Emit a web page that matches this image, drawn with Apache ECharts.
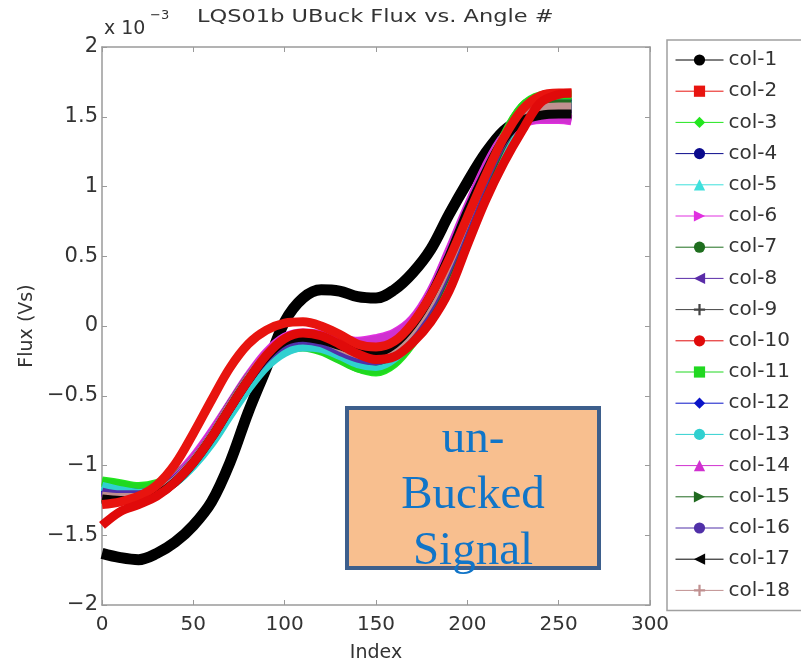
<!DOCTYPE html>
<html>
<head>
<meta charset="utf-8">
<script src="https://cdn.jsdelivr.net/npm/echarts@6/dist/echarts.min.js"></script>
<style>
html,body{margin:0;padding:0;background:#fff;}
#chart{width:801px;height:668px;}
</style>
</head>
<body>
<div id="chart"></div>
<script>
// ---- data (values in units of 1e-3 Vs) ----
const index = [0,10,20,30,40,50,60,70,80,90,100,110,120,130,140,150,160,170,180,190,200,210,220,230,240,250,257];
const names = ['col-1','col-2','col-3','col-4','col-5','col-6','col-7','col-8','col-9','col-10','col-11','col-12','col-13','col-14','col-15','col-16','col-17','col-18'];
const col1  = [-1.63,-1.66,-1.675,-1.63,-1.55,-1.43,-1.26,-0.98,-0.62,-0.3,0.03,0.2,0.26,0.25,0.21,0.2,0.26,0.38,0.55,0.8,1.03,1.24,1.4,1.48,1.51,1.52,1.52];
const col2  = [-1.28,-1.26,-1.22,-1.14,-0.99,-0.77,-0.53,-0.3,-0.13,-0.03,0.02,0.03,0.0,-0.06,-0.13,-0.15,-0.11,0.02,0.22,0.48,0.78,1.08,1.35,1.55,1.65,1.67,1.67];
const col3  = [-1.11,-1.13,-1.15,-1.13,-1.07,-0.95,-0.79,-0.6,-0.42,-0.27,-0.17,-0.14,-0.17,-0.23,-0.3,-0.33,-0.27,-0.12,0.09,0.37,0.7,1.03,1.35,1.57,1.65,1.66,1.66];
const col4  = [-1.16,-1.18,-1.19,-1.16,-1.09,-0.96,-0.79,-0.59,-0.4,-0.24,-0.14,-0.11,-0.13,-0.19,-0.25,-0.28,-0.23,-0.1,0.1,0.37,0.68,1.0,1.3,1.5,1.58,1.6,1.6];
const col5  = [-1.14,-1.17,-1.19,-1.17,-1.11,-0.99,-0.83,-0.63,-0.44,-0.28,-0.18,-0.14,-0.15,-0.2,-0.26,-0.29,-0.24,-0.11,0.09,0.36,0.67,0.99,1.29,1.49,1.57,1.58,1.58];
const col6  = [-1.2,-1.21,-1.21,-1.17,-1.08,-0.94,-0.76,-0.56,-0.36,-0.19,-0.08,-0.05,-0.06,-0.09,-0.11,-0.09,-0.05,0.05,0.25,0.54,0.85,1.14,1.36,1.45,1.48,1.48,1.47];
const col7  = [-1.22,-1.23,-1.23,-1.19,-1.1,-0.96,-0.78,-0.57,-0.37,-0.21,-0.1,-0.07,-0.09,-0.15,-0.21,-0.24,-0.19,-0.06,0.14,0.42,0.73,1.04,1.33,1.52,1.59,1.6,1.6];
const col8  = [-1.18,-1.2,-1.2,-1.17,-1.09,-0.96,-0.78,-0.58,-0.38,-0.22,-0.12,-0.09,-0.11,-0.17,-0.22,-0.24,-0.18,-0.04,0.16,0.44,0.76,1.07,1.34,1.5,1.55,1.56,1.56];
const col9  = [-1.21,-1.22,-1.22,-1.18,-1.1,-0.96,-0.78,-0.57,-0.38,-0.21,-0.11,-0.08,-0.1,-0.16,-0.21,-0.23,-0.17,-0.03,0.17,0.45,0.77,1.08,1.35,1.51,1.56,1.57,1.57];
const col10 = [-1.43,-1.33,-1.28,-1.22,-1.12,-0.98,-0.8,-0.59,-0.39,-0.21,-0.09,-0.05,-0.07,-0.13,-0.2,-0.24,-0.22,-0.12,0.03,0.25,0.58,0.9,1.17,1.4,1.6,1.66,1.67];
const col11 = [-1.12,-1.14,-1.16,-1.14,-1.08,-0.96,-0.8,-0.61,-0.43,-0.28,-0.18,-0.15,-0.18,-0.24,-0.3,-0.32,-0.26,-0.11,0.1,0.38,0.71,1.04,1.36,1.57,1.64,1.65,1.65];
const col12 = [-1.17,-1.19,-1.2,-1.17,-1.1,-0.97,-0.8,-0.6,-0.41,-0.25,-0.15,-0.12,-0.14,-0.2,-0.26,-0.28,-0.22,-0.09,0.11,0.38,0.69,1.01,1.31,1.51,1.58,1.59,1.59];
const col13 = [-1.15,-1.18,-1.2,-1.18,-1.12,-1.0,-0.84,-0.64,-0.45,-0.29,-0.19,-0.15,-0.16,-0.21,-0.27,-0.29,-0.23,-0.1,0.1,0.37,0.68,1.0,1.3,1.5,1.57,1.58,1.58];
const col14 = [-1.21,-1.22,-1.22,-1.18,-1.09,-0.95,-0.77,-0.57,-0.37,-0.2,-0.09,-0.06,-0.07,-0.1,-0.12,-0.1,-0.06,0.04,0.24,0.53,0.84,1.13,1.35,1.45,1.49,1.49,1.48];
const col15 = [-1.23,-1.24,-1.24,-1.2,-1.11,-0.97,-0.79,-0.58,-0.38,-0.22,-0.11,-0.08,-0.1,-0.16,-0.22,-0.25,-0.2,-0.07,0.13,0.41,0.72,1.03,1.32,1.51,1.58,1.59,1.59];
const col16 = [-1.19,-1.21,-1.21,-1.18,-1.1,-0.97,-0.79,-0.59,-0.39,-0.23,-0.13,-0.1,-0.12,-0.18,-0.23,-0.25,-0.19,-0.05,0.15,0.43,0.75,1.06,1.33,1.5,1.55,1.56,1.56];
const col17 = [-1.24,-1.25,-1.25,-1.21,-1.12,-0.98,-0.8,-0.59,-0.39,-0.22,-0.11,-0.08,-0.1,-0.14,-0.18,-0.19,-0.13,0.01,0.22,0.5,0.82,1.1,1.34,1.47,1.51,1.52,1.52];
const col18 = [-1.22,-1.23,-1.23,-1.19,-1.11,-0.97,-0.79,-0.58,-0.38,-0.21,-0.1,-0.07,-0.09,-0.15,-0.2,-0.22,-0.16,-0.02,0.18,0.46,0.78,1.09,1.35,1.51,1.56,1.57,1.57];
const values = [col1,col2,col3,col4,col5,col6,col7,col8,col9,col10,col11,col12,col13,col14,col15,col16,col17,col18];
const xTicks = [0,50,100,150,200,250,300];
const yTicks = [-2,-1.5,-1,-0.5,0,0.5,1,1.5,2];

// ---- styles ----
const colors = ['#000000','#e8140f','#22e61e','#0a0a8c','#3ee0dc','#e030e0','#1e6e1e','#5a2ca8','#444444',
                '#e00a0a','#20d820','#0a14c8','#30d0d0','#d030d0','#206a20','#5030a8','#050505','#c09090'];
const plus = 'path://M4,0h2v4h4v2h-4v4h-2v-4h-4v-2h4z';
const symbols = ['circle','rect','diamond','circle','triangle','triangle','circle','triangle',plus,
                 'circle','rect','diamond','circle','triangle','triangle','circle','triangle',plus];
const symRot = [0,0,0,0,0,-90,0,90,0, 0,0,0,0,0,-90,0,90,0];
const symSize = [10,9,10,6,10,10,6,10,9, 10,9,10,6,10,10,6,10,9];
const zs = [2,5,3,3,3,3,3,3,3, 5,3,3,3,3,3,3,4,3];
const FONT = 'DejaVu Sans';

const series = names.map((n,i)=>({
  name:n, type:'line', z: zs[i],
  data: index.map((x,j)=>[x, values[i][j]]),
  smooth: 0.35, showSymbol:false,
  symbol: symbols[i], symbolRotate: symRot[i], symbolSize: symSize[i],
  lineStyle:{width: i===0 ? 11 : 9, color: colors[i]},
  itemStyle:{color: colors[i]},
  emphasis:{disabled:true}
}));

const chart = echarts.init(document.getElementById('chart'), null, {renderer:'canvas'});
const axisCol = '#9a9a9a';
chart.setOption({
  animation:false,
  backgroundColor:'#ffffff',
  textStyle:{fontFamily:FONT},
  grid:{left:102, right:151, top:47, bottom:60, containLabel:false},
  xAxis:[{
    type:'value', min:0, max:300, interval:50, position:'bottom',
    name:'Index', nameLocation:'middle', nameGap:39,
    nameTextStyle:{fontFamily:FONT, fontSize:19, color:'#333'},
    axisLine:{show:true, onZero:false, lineStyle:{color:axisCol, width:1.5}},
    axisTick:{show:true, inside:true, length:5, lineStyle:{color:axisCol}},
    axisLabel:{fontFamily:FONT, fontSize:20, color:'#333', margin:10,
      formatter:(v)=> xTicks.includes(v) ? String(v) : ''},
    splitLine:{show:false}
  },{
    type:'value', min:0, max:300, interval:50, position:'top',
    axisLine:{show:true, onZero:false, lineStyle:{color:axisCol, width:1.5}},
    axisTick:{show:true, inside:true, length:5, lineStyle:{color:axisCol}},
    axisLabel:{show:false}, splitLine:{show:false}
  }],
  yAxis:[{
    type:'value', min:-2, max:2, interval:0.5, position:'left',
    name:'Flux (Vs)', nameLocation:'middle', nameGap:58, nameRotate:90,
    nameTextStyle:{fontFamily:FONT, fontSize:19, color:'#333'},
    axisLine:{show:true, onZero:false, lineStyle:{color:axisCol, width:1.5}},
    axisTick:{show:true, inside:true, length:5, lineStyle:{color:axisCol}},
    axisLabel:{fontFamily:FONT, fontSize:21, color:'#333', margin:4,
      formatter:(v)=> yTicks.includes(v) ? String(v).replace('-','\u2212') : ''},
    splitLine:{show:false}
  },{
    type:'value', min:-2, max:2, interval:0.5, position:'right',
    axisLine:{show:true, onZero:false, lineStyle:{color:axisCol, width:1.5}},
    axisTick:{show:true, inside:true, length:5, lineStyle:{color:axisCol}},
    axisLabel:{show:false}, splitLine:{show:false}
  }],
  legend:{
    orient:'vertical', left:667, top:40,
    data: names,
    padding:[10,40,10,8],
    itemWidth:48, itemHeight:14, itemGap:11.2,
    backgroundColor:'#ffffff', borderColor:'#a0a0a0', borderWidth:1.5,
    textStyle:{fontFamily:FONT, fontSize:20, color:'#333', lineHeight:20},
    lineStyle:{width:1},
    selectedMode:false
  },
  series: series,
  graphic:[
    {type:'text', x:197, y:8, scaleX:1.25, originX:0, z:10,
      style:{text:'LQS01b UBuck Flux vs. Angle #', fontFamily:FONT, fontSize:18, fill:'#333', align:'left'}},
    {type:'text', x:104, y:20, z:10,
      style:{text:'x 10', fontFamily:FONT, fontSize:19, fill:'#333'}},
    {type:'text', x:150, y:9, z:10,
      style:{text:'\u22123', fontFamily:FONT, fontSize:13, fill:'#333'}},
    {type:'rect', x:347, y:408, z:20,
      shape:{x:0, y:0, width:252, height:160},
      style:{fill:'#f8bf8f', stroke:'#3d5f8c', lineWidth:4}},
    {type:'text', x:473, y:412, z:21,
      style:{text:'un-\nBucked\nSignal', fontFamily:'Liberation Serif', fontSize:47,
        lineHeight:56, fill:'#1175c8', align:'center'}}
  ]
});
</script>
</body>
</html>
